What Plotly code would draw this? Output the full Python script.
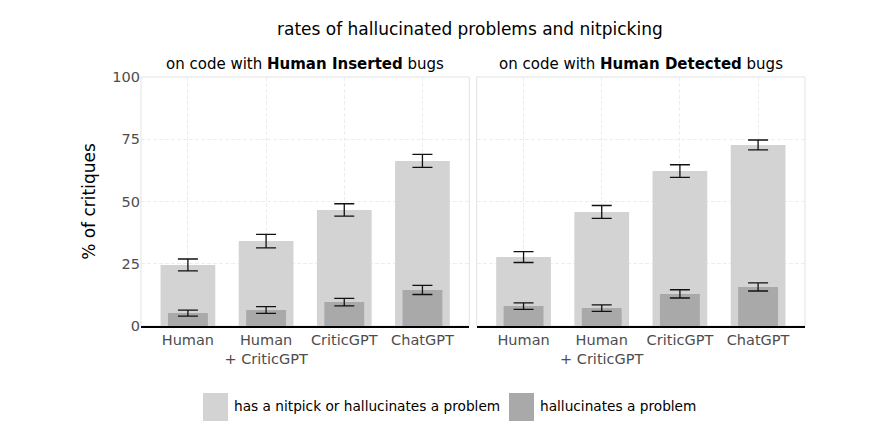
import plotly.graph_objects as go
from plotly.subplots import make_subplots

categories = ["Human", "Human<br>+ CriticGPT", "CriticGPT", "ChatGPT"]

# Human Inserted bugs panel
ins_nitpick = [24.5, 34.1, 46.6, 66.3]
ins_nitpick_err = [2.4, 2.7, 2.5, 2.6]
ins_halluc = [5.2, 6.4, 9.6, 14.5]
ins_halluc_err = [1.2, 1.35, 1.5, 1.85]

# Human Detected bugs panel
det_nitpick = [27.7, 45.8, 62.2, 72.7]
det_nitpick_err = [2.2, 2.6, 2.55, 2.0]
det_halluc = [8.0, 7.2, 12.9, 15.7]
det_halluc_err = [1.3, 1.3, 1.65, 1.65]

y_ticks = [0, 25, 50, 75, 100]

LIGHT = "#d3d3d3"
DARK = "#a9a9a9"
FONT = "DejaVu Sans"
GRID = "#ededed"

fig = make_subplots(rows=1, cols=2, shared_yaxes=True, horizontal_spacing=0.011)

panels = [(ins_nitpick, ins_nitpick_err, ins_halluc, ins_halluc_err),
          (det_nitpick, det_nitpick_err, det_halluc, det_halluc_err)]

for i, (nv, ne, hv, he) in enumerate(panels, start=1):
    fig.add_trace(go.Bar(x=categories, y=nv, width=0.7, marker_color=LIGHT,
                         marker_line_width=0, showlegend=False,
                         error_y=dict(type="data", array=ne, color="#111111",
                                      thickness=1.3, width=10)), row=1, col=i)
    fig.add_trace(go.Bar(x=categories, y=hv, width=0.51, marker_color=DARK,
                         marker_line_width=0, showlegend=False,
                         error_y=dict(type="data", array=he, color="#111111",
                                      thickness=1.3, width=10)), row=1, col=i)

for i in (1, 2):
    fig.update_xaxes(row=1, col=i, range=[-0.6, 3.6], showgrid=True,
                     gridcolor=GRID, griddash="4px,2px", gridwidth=1,
                     showline=True, linecolor="black", linewidth=2,
                     ticks="", tickfont=dict(family=FONT, size=14.5, color="#4d4d4d"),
                     zeroline=False)
    fig.update_yaxes(row=1, col=i, range=[0, 100], tickvals=y_ticks,
                     showgrid=True, gridcolor=GRID, griddash="4px,2px",
                     zeroline=False, ticks="",
                     tickfont=dict(family=FONT, size=14.5, color="#4d4d4d"))
    xr = "x domain" if i == 1 else "x2 domain"
    yr = "y domain" if i == 1 else "y2 domain"
    fig.add_shape(type="rect", xref=xr, yref=yr, x0=0, x1=1, y0=0, y1=1,
                  line=dict(color="#e3e3e3", width=1), layer="below")

fig.update_yaxes(row=1, col=1, title=dict(text="% of critiques",
                 font=dict(family=FONT, size=17, color="black"), standoff=12))

fig.update_layout(
    barmode="overlay",
    width=885, height=439,
    margin=dict(l=141, r=80, t=77, b=113),
    plot_bgcolor="white", paper_bgcolor="white",
    font=dict(family=FONT, size=14, color="black"),
    showlegend=False,
)

# titles
fig.add_annotation(text="rates of hallucinated problems and nitpicking",
                   xref="paper", yref="paper", x=0.495, y=1, yshift=48,
                   xanchor="center", yanchor="middle", showarrow=False,
                   font=dict(family=FONT, size=17, color="black"))
fig.add_annotation(text="on code with <b>Human Inserted</b> bugs",
                   xref="x domain", yref="y domain", x=0.5, y=1, yshift=2,
                   xanchor="center", yanchor="bottom", showarrow=False,
                   font=dict(family=FONT, size=15, color="black"))
fig.add_annotation(text="on code with <b>Human Detected</b> bugs",
                   xref="x2 domain", yref="y2 domain", x=0.5, y=1, yshift=2,
                   xanchor="center", yanchor="bottom", showarrow=False,
                   font=dict(family=FONT, size=15, color="black"))

# legend drawn manually (large swatches)
def px_x(p):
    return (p - 141) / (885 - 141 - 80)

def px_y(p):
    return (439 - 113 - p) / (439 - 113 - 77)

legend_items = [("has a nitpick or hallucinates a problem", LIGHT, 203),
                ("hallucinates a problem", DARK, 509)]
for label, color, x0 in legend_items:
    fig.add_shape(type="rect", xref="paper", yref="paper",
                  x0=px_x(x0), x1=px_x(x0 + 25), y0=px_y(421), y1=px_y(393),
                  fillcolor=color, line=dict(width=0))
    fig.add_annotation(text=label, xref="paper", yref="paper",
                       x=px_x(x0 + 29), y=px_y(406), xanchor="left",
                       yanchor="middle", showarrow=False,
                       font=dict(family=FONT, size=13.7, color="black"))

fig.write_html("out.html")
